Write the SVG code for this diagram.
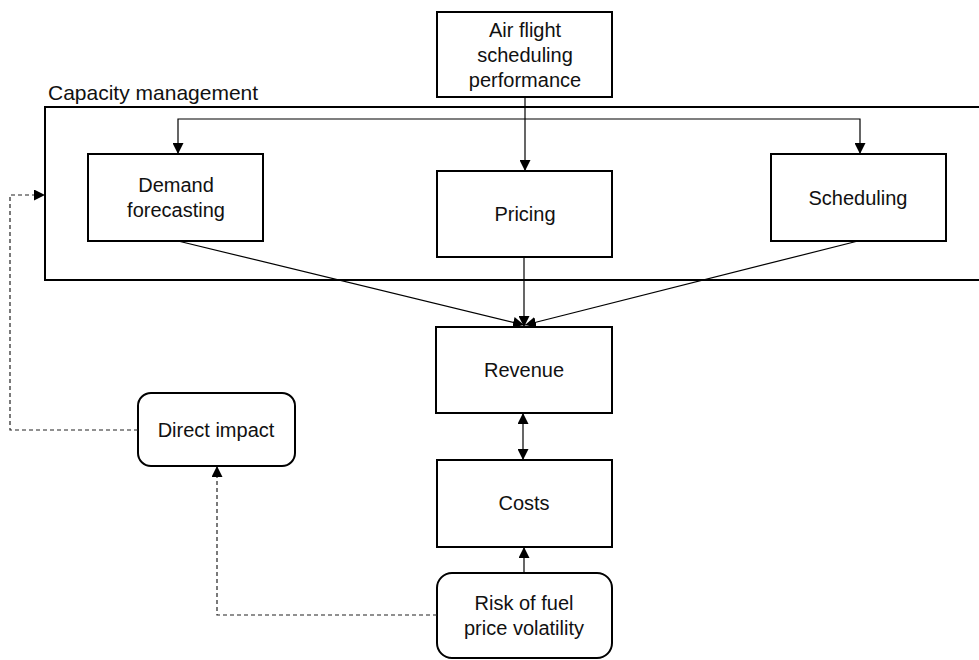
<svg xmlns="http://www.w3.org/2000/svg" width="979" height="660" viewBox="0 0 979 660">
<style>
  .box{fill:#fff;stroke:#000;stroke-width:2}
  .t{font-family:"Liberation Sans",Arial,sans-serif;font-size:20px;fill:#111;text-anchor:middle}
  .lbl{font-family:"Liberation Sans",Arial,sans-serif;font-size:21px;fill:#111}
  .c{fill:none;stroke:#000;stroke-width:1.2}
  .d{fill:none;stroke:#222;stroke-width:1.2;stroke-dasharray:4 3}
</style>
<defs>
  <marker id="ah" viewBox="0 0 10 10" refX="10" refY="5" markerWidth="11" markerHeight="11" markerUnits="userSpaceOnUse" orient="auto-start-reverse">
    <path d="M0,0 L10,5 L0,10 Z" fill="#000"/>
  </marker>
</defs>
<rect width="979" height="660" fill="#fff"/>

<g id="capacity">
  <rect class="box" x="45" y="107" width="950" height="173"/>
  <text class="lbl" x="48" y="100">Capacity management</text>
</g>

<g id="airflight">
  <rect class="box" x="437" y="12" width="175" height="85"/>
  <text class="t" x="525" y="37">Air flight</text>
  <text class="t" x="525" y="62">scheduling</text>
  <text class="t" x="525" y="87">performance</text>
</g>
<g id="demand">
  <rect class="box" x="88" y="154" width="175" height="87"/>
  <text class="t" x="176" y="192">Demand</text>
  <text class="t" x="176" y="217">forecasting</text>
</g>
<g id="pricing">
  <rect class="box" x="437" y="171" width="175" height="86"/>
  <text class="t" x="525" y="221">Pricing</text>
</g>
<g id="scheduling">
  <rect class="box" x="771" y="154" width="175" height="87"/>
  <text class="t" x="858" y="205">Scheduling</text>
</g>
<g id="revenue">
  <rect class="box" x="436" y="327" width="176" height="86"/>
  <text class="t" x="524" y="377">Revenue</text>
</g>
<g id="costs">
  <rect class="box" x="437" y="460" width="175" height="87"/>
  <text class="t" x="524" y="510">Costs</text>
</g>
<g id="risk">
  <rect class="box" x="437" y="573" width="175" height="85" rx="15"/>
  <text class="t" x="524" y="610">Risk of fuel</text>
  <text class="t" x="524" y="635">price volatility</text>
</g>
<g id="direct">
  <rect class="box" x="138" y="393" width="157" height="73" rx="13"/>
  <text class="t" x="216" y="437">Direct impact</text>
</g>

<g id="connectors">
  <path class="c" d="M525,97 V171" marker-end="url(#ah)"/>
  <path class="c" d="M178,154 V119 H860 V154" marker-start="url(#ah)" marker-end="url(#ah)"/>
  <path class="c" d="M178,241 L524,325" marker-end="url(#ah)"/>
  <path class="c" d="M524,257 V327" marker-end="url(#ah)"/>
  <path class="c" d="M858,241 L525,325" marker-end="url(#ah)"/>
  <path class="c" d="M523,413 V460" marker-start="url(#ah)" marker-end="url(#ah)"/>
  <path class="c" d="M524,573 V547" marker-end="url(#ah)"/>
  <path class="d" d="M437,615 H217 V466" marker-end="url(#ah)"/>
  <path class="d" d="M138,430 H10 V195 H45" marker-end="url(#ah)"/>
</g>
</svg>
